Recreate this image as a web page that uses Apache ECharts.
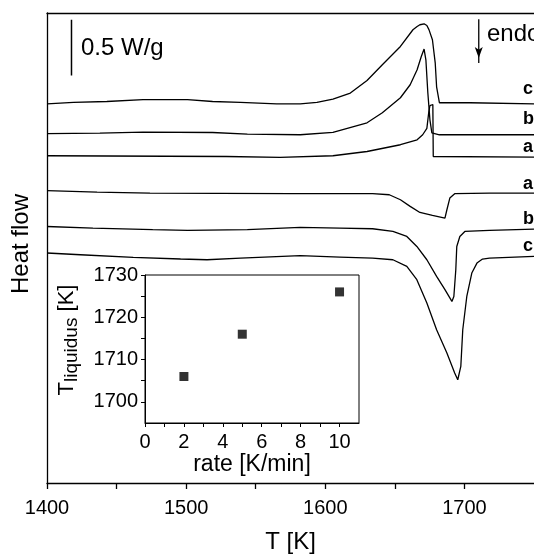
<!DOCTYPE html>
<html>
<head>
<meta charset="utf-8">
<script src="https://cdn.jsdelivr.net/npm/echarts@6/dist/echarts.min.js"></script>
<style>
  html, body { margin: 0; padding: 0; background: #fff; }
  #dsc { width: 534px; height: 554px; }
</style>
</head>
<body>
<div id="dsc"></div>
<script>
// T [K] vs heat flow (W/g, curves stacked with offsets)
var coolC = [[1400,3.647],[1419,3.660],[1443,3.669],[1469,3.686],[1501,3.686],[1519,3.669],[1539,3.660],[1565,3.647],[1582,3.647],[1594,3.660],[1605.5,3.692],[1618,3.750],[1630,3.871],[1641,4.022],[1654,4.198],[1663,4.359],[1666,4.390],[1668,4.407],[1671,4.416],[1673,4.400],[1674.5,4.360],[1677,4.263],[1679,4.041],[1680,3.810],[1682,3.657],[1704,3.657],[1750,3.647]];
var coolB = [[1400,3.359],[1438,3.365],[1469,3.375],[1519,3.371],[1544,3.356],[1582,3.349],[1605.5,3.371],[1630,3.464],[1641,3.561],[1654,3.705],[1661,3.830],[1666,3.974],[1669,4.102],[1671,4.173],[1672.3,4.070],[1673.7,3.753],[1675.2,3.493],[1676.6,3.368],[1682,3.349],[1750,3.349]];
var coolA = [[1400,3.147],[1529,3.140],[1567.5,3.131],[1605.5,3.147],[1630,3.188],[1654,3.253],[1666,3.301],[1670,3.349],[1673,3.410],[1674.4,3.570],[1675.2,3.630],[1676.6,3.647],[1677.3,3.640],[1677.6,3.140],[1750,3.134]];
var heatA = [[1400,2.811],[1436,2.798],[1474,2.788],[1575,2.782],[1610.5,2.782],[1634,2.782],[1646,2.772],[1654,2.724],[1661,2.660],[1668,2.602],[1677,2.573],[1686,2.548],[1687.4,2.628],[1689.5,2.740],[1693,2.782],[1718,2.788],[1750,2.788]];
var heatB = [[1400,2.467],[1433,2.452],[1476,2.436],[1501,2.429],[1544,2.436],[1582,2.458],[1610.5,2.452],[1634,2.445],[1648.6,2.419],[1658.6,2.371],[1665.8,2.275],[1673,2.147],[1680,1.987],[1686,1.859],[1691,1.746],[1692.4,1.794],[1693.8,2.051],[1694.5,2.275],[1696.7,2.371],[1700.3,2.419],[1718,2.429],[1750,2.442]];
var heatC = [[1400,2.212],[1424,2.195],[1462,2.169],[1496,2.154],[1515,2.147],[1539,2.163],[1582,2.186],[1610.5,2.173],[1634,2.163],[1648.6,2.147],[1658.6,2.083],[1665.8,1.955],[1673,1.731],[1680,1.474],[1687.4,1.250],[1693,1.058],[1695.2,0.993],[1697.4,1.121],[1698.8,1.474],[1701.7,1.794],[1705.3,2.019],[1709,2.115],[1713,2.154],[1718,2.163],[1750,2.179]];

// scale bar (0.5 W/g) and endo arrow, in axis units
var scaleBar = [[1417.6,3.92],[1417.6,4.455]];
var endoArrow = [[1710.3,4.46],[1710.3,4.04]];

// inset: heating rate [K/min] vs T liquidus [K]
var rates = [2, 5, 10];
var tLiquidus = [1706, 1716, 1726];

var fontFam = "'Liberation Sans', Arial, sans-serif";
var black = "#000";

var myChart = echarts.init(document.getElementById("dsc"));

function curve(d) {
  return {
    type: "line",
    xAxisIndex: 0,
    yAxisIndex: 0,
    symbol: "none",
    lineStyle: { color: black, width: 1.3 },
    data: d,
  };
}

var insetPts = rates.map(function (r, i) {
  return [r, tLiquidus[i]];
});

var option = {
  backgroundColor: "#fff",
  animation: false,
  grid: [
    { left: 47, right: 0, top: 13, bottom: 71, outerBoundsMode: "none" },
    { left: 145, top: 275, width: 214, height: 148, show: true, borderColor: black, borderWidth: 1, outerBoundsMode: "none" },
  ],
  xAxis: [
    {
      gridIndex: 0,
      type: "value",
      min: 1400,
      max: 1750,
      interval: 50,
      name: "T [K]",
      nameLocation: "middle",
      nameGap: 47,
      nameTextStyle: { color: black, fontSize: 24, fontFamily: fontFam },
      axisLine: { show: true, lineStyle: { color: black, width: 1.3 } },
      axisTick: { show: true, length: 6, lineStyle: { color: black, width: 1.3 } },
      axisLabel: {
        color: black,
        fontSize: 20,
        fontFamily: fontFam,
        margin: 15,
        showMaxLabel: false,
        formatter: function (v) {
          return v % 100 === 0 ? String(v) : "";
        },
      },
      splitLine: { show: false },
    },
    {
      // top border of the main frame
      gridIndex: 0,
      type: "value",
      position: "top",
      min: 1400,
      max: 1750,
      axisLine: { show: true, onZero: false, lineStyle: { color: black, width: 1.3 } },
      axisTick: { show: false },
      axisLabel: { show: false },
      splitLine: { show: false },
    },
    {
      gridIndex: 1,
      type: "value",
      min: 0,
      max: 11,
      interval: 1,
      name: "rate [K/min]",
      nameLocation: "middle",
      nameGap: 29,
      nameTextStyle: { color: black, fontSize: 23, fontFamily: fontFam },
      axisLine: { show: true, lineStyle: { color: black, width: 1 } },
      axisTick: { show: true, length: 4, lineStyle: { color: black } },
      axisLabel: {
        color: black,
        fontSize: 20,
        fontFamily: fontFam,
        margin: 9,
        showMaxLabel: false,
        formatter: function (v) {
          return v % 2 === 0 ? String(v) : "";
        },
      },
      splitLine: { show: false },
    },
  ],
  yAxis: [
    {
      gridIndex: 0,
      type: "value",
      min: 0,
      max: 4.52,
      name: "Heat flow",
      nameLocation: "middle",
      nameGap: 14,
      nameTextStyle: { color: black, fontSize: 24, fontFamily: fontFam, padding: [0, 0, 0, 8] },
      axisLine: { show: true, lineStyle: { color: black, width: 1.3 } },
      axisTick: { show: false },
      axisLabel: { show: false },
      splitLine: { show: false },
    },
    {
      gridIndex: 1,
      type: "value",
      min: 1695,
      max: 1730,
      interval: 5,
      name: "{t|T}{s|liquidus}{t| [K]}",
      nameLocation: "middle",
      nameGap: 64,
      nameTextStyle: {
        color: black,
        fontFamily: fontFam,
        padding: [0, 0, 0, 18],
        rich: {
          t: { fontSize: 22, fontFamily: fontFam, color: black },
          s: { fontSize: 19, padding: [9, 0, 0, 0], fontFamily: fontFam, color: black },
        },
      },
      axisLine: { show: true, lineStyle: { color: black, width: 1 } },
      axisTick: { show: true, length: 4, lineStyle: { color: black } },
      axisLabel: {
        color: black,
        fontSize: 20,
        fontFamily: fontFam,
        margin: 7,
        showMinLabel: false,
        formatter: function (v) {
          return v % 10 === 0 ? String(v) : "";
        },
      },
      splitLine: { show: false },
    },
  ],
  graphic: [
    { type: "text", x: 81, y: 48, style: { text: "0.5 W/g", font: "24px " + fontFam, fill: black, verticalAlign: "middle" } },
    { type: "text", x: 487, y: 34, style: { text: "endo", font: "24px " + fontFam, fill: black, verticalAlign: "middle" } },
    { type: "text", x: 523, y: 89, style: { text: "c", font: "bold 18px " + fontFam, fill: black, verticalAlign: "middle" } },
    { type: "text", x: 523, y: 119, style: { text: "b", font: "bold 18px " + fontFam, fill: black, verticalAlign: "middle" } },
    { type: "text", x: 523, y: 147, style: { text: "a", font: "bold 18px " + fontFam, fill: black, verticalAlign: "middle" } },
    { type: "text", x: 523, y: 184, style: { text: "a", font: "bold 18px " + fontFam, fill: black, verticalAlign: "middle" } },
    { type: "text", x: 523, y: 219, style: { text: "b", font: "bold 18px " + fontFam, fill: black, verticalAlign: "middle" } },
    { type: "text", x: 523, y: 246, style: { text: "c", font: "bold 18px " + fontFam, fill: black, verticalAlign: "middle" } },
  ],
  series: [
    curve(coolC),
    curve(coolB),
    curve(coolA),
    curve(heatA),
    curve(heatB),
    curve(heatC),
    {
      type: "line",
      xAxisIndex: 0,
      yAxisIndex: 0,
      symbol: "none",
      lineStyle: { color: black, width: 1.5 },
      data: scaleBar,
    },
    {
      type: "line",
      xAxisIndex: 0,
      yAxisIndex: 0,
      lineStyle: { color: black, width: 1.3 },
      data: [
        { value: endoArrow[0], symbol: "none" },
        { value: endoArrow[1], symbol: "arrow", symbolSize: [6, 11], symbolRotate: 180, symbolOffset: [0, -5], itemStyle: { color: black } },
      ],
    },
    {
      type: "scatter",
      xAxisIndex: 2,
      yAxisIndex: 1,
      symbol: "rect",
      symbolSize: 9,
      itemStyle: { color: black },
      data: insetPts,
    },
  ],
};

myChart.setOption(option);
window.addEventListener("resize", function () {
  myChart.resize();
});
</script>
</body>
</html>
